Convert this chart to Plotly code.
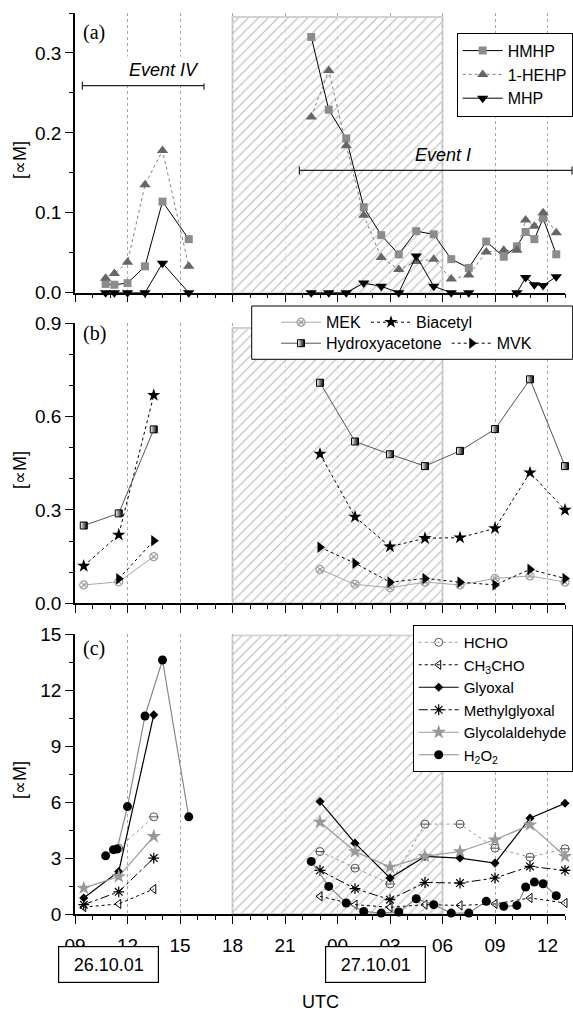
import plotly.graph_objects as go

# ---------------- data ----------------
# sampling times in hours since 26.10.01 00:00 UTC
A_T1 = [10.75, 11.25, 12.0, 13.0, 14.0, 15.5]
A_T2 = [22.5, 23.5, 24.5, 25.5, 26.5, 27.5, 28.5, 29.5, 30.5, 31.5, 32.5, 33.5,
        34.25, 34.75, 35.25, 35.75, 36.5]
HMHP1 = [0.011, 0.010, 0.012, 0.033, 0.114, 0.067]
HMHP2 = [0.320, 0.229, 0.193, 0.107, 0.072, 0.048, 0.077, 0.073, 0.042, 0.031,
         0.064, 0.045, 0.058, 0.076, 0.067, 0.093, 0.048]
HEHP1 = [0.018, 0.024, 0.038, 0.135, 0.178, 0.033]
HEHP2 = [0.220, 0.278, 0.184, 0.097, 0.044, 0.029, 0.039, 0.042, 0.017, 0.022,
         0.051, 0.053, 0.053, 0.091, 0.083, 0.100, 0.075]
MHP1 = [0.0, 0.0, 0.0, 0.0, 0.037, 0.0]
MHP2 = [0.0, 0.0, 0.0, 0.012, 0.008, 0.0, 0.046, 0.008, 0.0, 0.0, None, None,
        0.0, 0.019, 0.010, 0.009, 0.020]

B_T1 = [9.5, 11.5, 13.5]
B_T2 = [23, 25, 27, 29, 31, 33, 35, 37]
MEK1 = [0.059, 0.069, 0.150]
MEK2 = [0.109, 0.061, 0.050, 0.068, 0.059, 0.080, 0.088, 0.068]
BIAC1 = [0.120, 0.220, 0.669]
BIAC2 = [0.480, 0.278, 0.182, 0.209, 0.211, 0.241, 0.420, 0.300]
HYAC1 = [0.250, 0.289, 0.559]
HYAC2 = [0.709, 0.520, 0.479, 0.441, 0.490, 0.560, 0.720, 0.441]
MVK1 = [None, 0.079, 0.201]
MVK2 = [0.180, 0.129, 0.068, 0.080, 0.068, 0.059, 0.109, 0.080]

C_T1 = [9.5, 11.5, 13.5]
C_T2 = [23, 25, 27, 29, 31, 33, 35, 37]
HCHO1 = [None, 3.53, 5.21]
HCHO2 = [3.35, 2.46, 1.61, 4.82, 4.82, 3.53, 3.05, 3.50]
CH3CHO1 = [0.37, 0.54, 1.34]
CH3CHO2 = [0.95, 0.50, 0.36, 0.50, 0.46, 0.54, 0.86, 0.59]
GLY1 = [0.86, 2.28, 10.68]
GLY2 = [6.03, 3.80, 1.93, 3.09, 3.00, 2.73, 5.14, 5.94]
MGLY1 = [0.50, 1.19, 3.00]
MGLY2 = [2.34, 1.36, 0.77, 1.69, 1.66, 1.93, 2.55, 2.34]
GLYC1 = [1.39, 2.01, 4.16]
GLYC2 = [4.93, 3.35, 2.52, 3.09, 3.35, 3.98, 4.78, 3.09]
H_T1 = [10.75, 11.2, 11.4, 12.0, 13.0, 14.0, 15.5]
H2O2_1 = [3.12, 3.45, 3.48, 5.76, 10.62, 13.62, 5.21]
H_T2 = A_T2
H2O2_2 = [2.82, 1.48, 0.59, 0.14, 0.05, 0.11, 0.82, 0.50, 0.05, 0.05, 0.68, 0.41,
          0.46, 1.45, 1.71, 1.62, 0.98]

# night (shaded) period and its heights per panel
NIGHT = [18, 30]
SHADE_TOP = [0.345, 0.885, 14.95]
# events: (start h, end h, level)
EVENT_IV = (9.42, 16.37, 0.259)
EVENT_I = (21.82, 37.4, 0.153)

X_TICKS = list(range(9, 37, 3))
X_TICKTEXT = ["%02d" % (h % 24) for h in X_TICKS]
X_RANGE = [9, 37]
Y_RANGES = [[0, 0.35], [0, 0.9], [0, 15]]
Y_DTICK = [0.1, 0.3, 3]
Y_MINOR = [0.05, 0.1, 1.5]
DATE_LABELS = ["26.10.01", "27.10.01"]

# ---------------- layout geometry ----------------
W, H = 573, 1014
L, R, T, B = 75, 8, 13, 100
PW, PH = W - L - R, H - T - B


def px_x(px):
    return (px - L) / PW


def px_y(py):
    return (H - B - py) / PH


DOMS = [[px_y(292.7), 1.0], [px_y(603.3), px_y(323.3)], [0.0, px_y(634.3)]]


def to_paper(h, v, panel):
    x = (h - X_RANGE[0]) / (X_RANGE[1] - X_RANGE[0])
    d = DOMS[panel]
    y0, y1 = Y_RANGES[panel]
    return x, d[0] + (v - y0) / (y1 - y0) * (d[1] - d[0])


def join(t1, v1, t2, v2):
    return t1 + [None] + t2, v1 + [None] + v2


FONT = "Liberation Sans, Arial, sans-serif"
fig = go.Figure()

# shaded night period (hatched)
for i, ax in enumerate(["", "2", "3"]):
    fig.add_trace(go.Bar(
        x=[(NIGHT[0] + NIGHT[1]) / 2], y=[SHADE_TOP[i]], width=[NIGHT[1] - NIGHT[0]],
        base=0, xaxis="x" + ax, yaxis="y" + ax, showlegend=False, hoverinfo="skip",
        opacity=0.72,
        marker=dict(color="white",
                    line=dict(color="#c0c0c0", width=2),
                    pattern=dict(shape="/", fgcolor="#9a9a9a", bgcolor="white",
                                 size=7, solidity=0.15, fillmode="replace"))))

# ---- panel (a)
t, v = join(A_T1, HMHP1, A_T2, HMHP2)
fig.add_trace(go.Scatter(x=t, y=v, name="HMHP", mode="lines+markers", legend="legend",
                         line=dict(color="black", width=1),
                         marker=dict(symbol="square", size=8, color="#8c8c8c"),
                         cliponaxis=False, xaxis="x", yaxis="y"))
t, v = join(A_T1, HEHP1, A_T2, HEHP2)
fig.add_trace(go.Scatter(x=t, y=v, name="1-HEHP", mode="lines+markers", legend="legend",
                         line=dict(color="#808080", width=1, dash="dot"),
                         marker=dict(symbol="triangle-up", size=10, color="#666666"),
                         cliponaxis=False, xaxis="x", yaxis="y"))
t, v = join(A_T1, MHP1, A_T2, MHP2)
fig.add_trace(go.Scatter(x=t, y=v, name="MHP", mode="lines+markers", legend="legend",
                         line=dict(color="black", width=1),
                         marker=dict(symbol="triangle-down", size=10, color="black"),
                         cliponaxis=False, xaxis="x", yaxis="y"))

# ---- panel (b)
t, v = join(B_T1, MEK1, B_T2, MEK2)
fig.add_trace(go.Scatter(x=t, y=v, name="MEK", mode="lines+markers", legend="legend2",
                         line=dict(color="#a8a8a8", width=1),
                         marker=dict(symbol="circle-x-open", size=8, color="#a0a0a0",
                                     line=dict(width=1.2)),
                         cliponaxis=False, xaxis="x2", yaxis="y2"))
t, v = join(B_T1, BIAC1, B_T2, BIAC2)
fig.add_trace(go.Scatter(x=t, y=v, name="Biacetyl", mode="lines+markers", legend="legend2",
                         line=dict(color="black", width=1, dash="dot"),
                         marker=dict(symbol="star", size=10, color="black"),
                         cliponaxis=False, xaxis="x2", yaxis="y2"))
t, v = join(B_T1, HYAC1, B_T2, HYAC2)
fig.add_trace(go.Scatter(x=t, y=v, name="Hydroxyacetone", mode="lines+markers", legend="legend3",
                         line=dict(color="#555555", width=1),
                         marker=dict(symbol="square", size=7, color="white",
                                     line=dict(color="black", width=1),
                                     gradient=dict(type="horizontal", color="black")),
                         cliponaxis=False, xaxis="x2", yaxis="y2"))
t, v = join(B_T1, MVK1, B_T2, MVK2)
fig.add_trace(go.Scatter(x=t, y=v, name="MVK", mode="lines+markers", legend="legend3",
                         line=dict(color="black", width=1, dash="dot"),
                         marker=dict(symbol="triangle-right", size=10, color="black"),
                         cliponaxis=False, xaxis="x2", yaxis="y2"))

# ---- panel (c)
t, v = join(C_T1, HCHO1, C_T2, HCHO2)
fig.add_trace(go.Scatter(x=t, y=v, name="HCHO", mode="lines+markers", legend="legend4",
                         line=dict(color="#9a9a9a", width=1, dash="dot"),
                         marker=dict(symbol="circle-open", size=8, color="#555555",
                                     line=dict(width=1)),
                         cliponaxis=False, xaxis="x3", yaxis="y3"))
fig.add_trace(go.Scatter(x=t, y=v, mode="markers", showlegend=False, hoverinfo="skip",
                         marker=dict(symbol="line-ew-open", size=7, color="#555555",
                                     line=dict(width=1)),
                         cliponaxis=False, xaxis="x3", yaxis="y3"))
t, v = join(C_T1, CH3CHO1, C_T2, CH3CHO2)
fig.add_trace(go.Scatter(x=t, y=v, name="CH<sub>3</sub>CHO", mode="lines+markers",
                         legend="legend4",
                         line=dict(color="black", width=1, dash="dot"),
                         marker=dict(symbol="triangle-left-open", size=8, color="black",
                                     line=dict(width=1)),
                         cliponaxis=False, xaxis="x3", yaxis="y3"))
t, v = join(C_T1, GLY1, C_T2, GLY2)
fig.add_trace(go.Scatter(x=t, y=v, name="Glyoxal", mode="lines+markers", legend="legend4",
                         line=dict(color="black", width=1.2),
                         marker=dict(symbol="diamond", size=7, color="black"),
                         cliponaxis=False, xaxis="x3", yaxis="y3"))
t, v = join(C_T1, MGLY1, C_T2, MGLY2)
fig.add_trace(go.Scatter(x=t, y=v, name="Methylglyoxal", mode="lines+markers",
                         legend="legend4",
                         line=dict(color="black", width=1, dash="dashdot"),
                         marker=dict(symbol="asterisk-open", size=9, color="black",
                                     line=dict(width=1.2)),
                         cliponaxis=False, xaxis="x3", yaxis="y3"))
t, v = join(C_T1, GLYC1, C_T2, GLYC2)
fig.add_trace(go.Scatter(x=t, y=v, name="Glycolaldehyde", mode="lines+markers",
                         legend="legend4",
                         line=dict(color="#999999", width=1.2),
                         marker=dict(symbol="star", size=11, color="#999999"),
                         cliponaxis=False, xaxis="x3", yaxis="y3"))
t, v = join(H_T1, H2O2_1, H_T2, H2O2_2)
fig.add_trace(go.Scatter(x=t, y=v, name="H<sub>2</sub>O<sub>2</sub>", mode="lines+markers",
                         legend="legend4",
                         line=dict(color="#8a8a8a", width=1.2),
                         marker=dict(symbol="circle", size=9, color="black"),
                         cliponaxis=False, xaxis="x3", yaxis="y3"))

# ---------------- axes ----------------
axis_common = dict(showline=True, linecolor="black", linewidth=1.5, ticks="outside",
                   ticklen=8, tickwidth=1.2, tickcolor="black", zeroline=False,
                   layer="below traces",
                   tickfont=dict(family=FONT, size=19, color="black"))
layout = dict(width=W, height=H, margin=dict(l=L, r=R, t=T, b=B, autoexpand=False),
              paper_bgcolor="white", plot_bgcolor="white", showlegend=True,
              font=dict(family=FONT, color="black"), barmode="overlay")
for i, ax in enumerate(["", "2", "3"]):
    layout["xaxis" + ax] = dict(
        axis_common, range=X_RANGE, anchor="y" + ax, domain=[0, 1],
        tickmode="array", tickvals=X_TICKS, ticktext=X_TICKTEXT,
        showticklabels=(i == 2), ticklabelstandoff=5,
        showgrid=True, gridcolor="#a8a8a8", griddash="dot", gridwidth=1,
        minor=dict(ticks="outside", ticklen=4, tickwidth=1, tickcolor="black",
                   tickmode="array", tickvals=list(range(9, 38)), showgrid=False))
    layout["yaxis" + ax] = dict(
        axis_common, range=Y_RANGES[i], anchor="x" + ax, domain=DOMS[i],
        dtick=Y_DTICK[i], tick0=0, tickformat=(".1f" if i < 2 else "d"),
        showgrid=False,
        minor=dict(ticks="outside", ticklen=4, tickwidth=1, tickcolor="black",
                   dtick=Y_MINOR[i], tick0=0, showgrid=False))

leg_font = dict(family=FONT, size=16, color="black")
layout["legend"] = dict(x=px_x(572.7), xanchor="right", y=px_y(32.7), yanchor="top",
                        bgcolor="white", bordercolor="black", borderwidth=1,
                        font=leg_font, itemwidth=40, tracegroupgap=0)
layout["legend2"] = dict(x=px_x(276), xanchor="left", y=px_y(322.3), yanchor="middle",
                         orientation="h", bgcolor="rgba(0,0,0,0)", font=leg_font,
                         itemwidth=40)
layout["legend3"] = dict(x=px_x(276), xanchor="left", y=px_y(343.3), yanchor="middle",
                         orientation="h", bgcolor="rgba(0,0,0,0)", font=leg_font,
                         itemwidth=40)
layout["legend4"] = dict(x=px_x(572.7), xanchor="right", y=px_y(625), yanchor="top",
                         bgcolor="white", bordercolor="black", borderwidth=1,
                         font=dict(family=FONT, size=15, color="black"),
                         itemwidth=40, tracegroupgap=0)

shapes = []
# frame of legend (b)
shapes.append(dict(type="rect", xref="paper", yref="paper", layer="above",
                   x0=px_x(251.7), x1=px_x(572.7), y0=px_y(359.3), y1=px_y(306),
                   fillcolor="white", line=dict(color="black", width=1)))


def bracket(ev, panel):
    h0, h1, lev = ev
    xa, ya = to_paper(h0, lev, panel)
    xb, _ = to_paper(h1, lev, panel)
    cap = 4 / PH
    s = [dict(type="line", xref="paper", yref="paper", x0=xa, x1=xb, y0=ya, y1=ya,
              line=dict(color="#222222", width=1.2))]
    for xx in (xa, xb):
        s.append(dict(type="line", xref="paper", yref="paper", x0=xx, x1=xx,
                      y0=ya - cap, y1=ya + cap, line=dict(color="#222222", width=1.2)))
    return s


shapes += bracket(EVENT_IV, 0)
shapes += bracket(EVENT_I, 0)
layout["shapes"] = shapes

ann = []
for lab, py in (("(a)", 32), ("(b)", 333.5), ("(c)", 648.5)):
    ann.append(dict(text=lab, xref="paper", yref="paper", x=px_x(81), y=px_y(py),
                    xanchor="left", yanchor="middle", showarrow=False,
                    font=dict(family="Liberation Serif, Times New Roman, serif", size=20)))
for py in (160, 470, 780):
    ann.append(dict(text="[∝M]", xref="paper", yref="paper", x=px_x(20), y=px_y(py),
                    xanchor="center", yanchor="middle", textangle=-90, showarrow=False,
                    font=dict(family=FONT, size=18)))
ann.append(dict(text="<i>Event IV</i>", xref="paper", yref="paper", x=px_x(164),
                y=px_y(70), xanchor="center", yanchor="middle", showarrow=False,
                bgcolor="white", width=80, height=24, font=dict(family=FONT, size=18)))
ann.append(dict(text="<i>Event I</i>", xref="paper", yref="paper", x=px_x(443),
                y=px_y(155), xanchor="center", yanchor="middle", showarrow=False,
                font=dict(family=FONT, size=18)))
for lab, cx in zip(DATE_LABELS, (108.8, 375.3)):
    ann.append(dict(text=lab, xref="paper", yref="paper", x=px_x(cx), y=px_y(964.5),
                    xanchor="center", yanchor="middle", showarrow=False,
                    width=95, height=31, borderpad=2, bordercolor="black", borderwidth=1.2,
                    bgcolor="white", font=dict(family=FONT, size=18)))
ann.append(dict(text="UTC", xref="paper", yref="paper", x=px_x(320), y=px_y(1013),
                xanchor="center", yanchor="bottom", showarrow=False, borderpad=0,
                font=dict(family=FONT, size=18)))
layout["annotations"] = ann

fig.update_layout(**layout)
fig.write_html("out.html")
